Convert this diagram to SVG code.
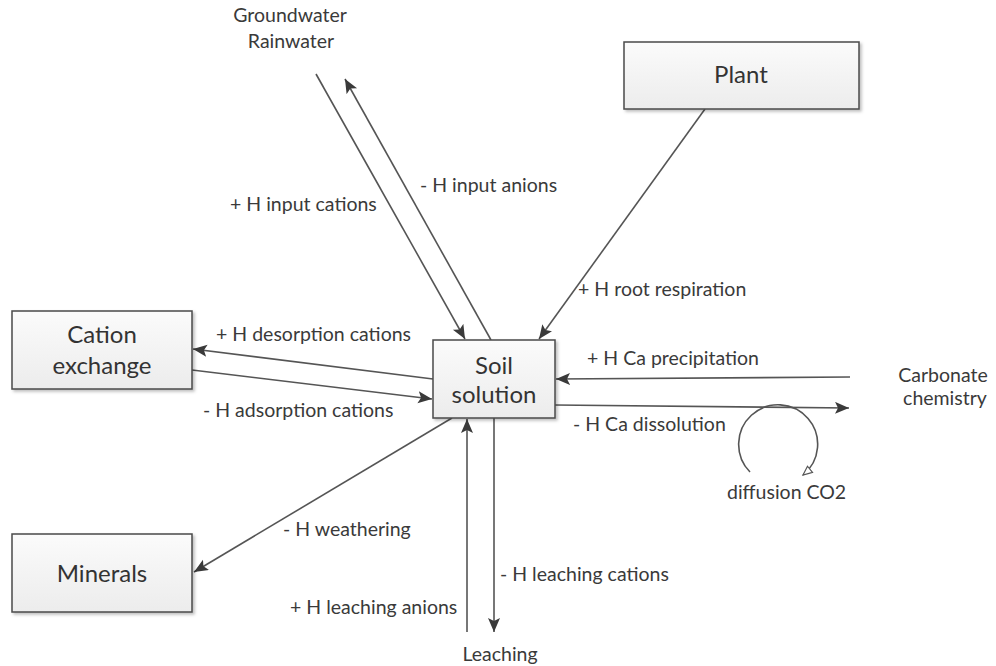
<svg xmlns="http://www.w3.org/2000/svg" width="996" height="666" viewBox="0 0 996 666">
<defs>
<linearGradient id="boxg" x1="0" y1="0" x2="0" y2="1">
<stop offset="0" stop-color="#fbfbfb"/>
<stop offset="1" stop-color="#ececec"/>
</linearGradient>
<filter id="sh" x="-10%" y="-10%" width="130%" height="140%">
<feDropShadow dx="2" dy="2" stdDeviation="1.5" flood-color="#000" flood-opacity="0.25"/>
</filter>
<marker id="ah" markerUnits="userSpaceOnUse" markerWidth="16" markerHeight="14" refX="14" refY="6" orient="auto">
<path d="M0,0 L14,6 L0,12 L3,6 Z" fill="#3a3a3a"/>
</marker>
<marker id="oh" markerUnits="userSpaceOnUse" markerWidth="14" markerHeight="14" refX="10" refY="5" orient="auto">
<path d="M1,1 L10,5 L1,9 Z" fill="#fff" stroke="#555" stroke-width="1.2"/>
</marker>
</defs>
<style>
.box{fill:url(#boxg);stroke:#4a4a4a;stroke-width:1.5;filter:url(#sh)}
.bt{font-family:Lato,"Liberation Sans",sans-serif;font-size:24px;fill:#333;text-anchor:middle}
.lb{font-family:Lato,"Liberation Sans",sans-serif;font-size:19.5px;fill:#3a3a3a}
.c{stroke:#555;stroke-width:1.6;fill:none}
.a{marker-end:url(#ah)}
</style>
<rect width="996" height="666" fill="#fff"/>
<g id="connectors">
<line class="c a" x1="316" y1="74" x2="465" y2="339"/>
<line class="c a" x1="491" y1="340" x2="345" y2="79"/>
<line class="c a" x1="705" y1="109" x2="539" y2="339"/>
<line class="c a" x1="433" y1="379" x2="193" y2="349"/>
<line class="c a" x1="192" y1="370" x2="432" y2="399"/>
<line class="c a" x1="850" y1="377" x2="556" y2="379"/>
<line class="c a" x1="555" y1="405" x2="849" y2="408"/>
<line class="c a" x1="452" y1="418" x2="194" y2="572"/>
<line class="c a" x1="467" y1="632" x2="467" y2="419"/>
<line class="c a" x1="494" y1="418" x2="494" y2="632"/>
<path class="c" d="M750,472 A39.5,39.5 0 1 1 803,475" stroke-width="1.4" marker-end="url(#oh)"/>
</g>
<g id="plant">
<rect class="box" x="624" y="42" width="235" height="67"/>
<text class="bt" x="741" y="83">Plant</text>
</g>
<g id="soil-solution">
<rect class="box" x="433" y="340" width="122" height="78"/>
<text class="bt" x="494" y="374">Soil</text>
<text class="bt" x="494" y="403">solution</text>
</g>
<g id="cation-exchange">
<rect class="box" x="12" y="311" width="180" height="78"/>
<text class="bt" x="102" y="343">Cation</text>
<text class="bt" x="102" y="374">exchange</text>
</g>
<g id="minerals">
<rect class="box" x="12" y="534" width="180" height="78"/>
<text class="bt" x="102" y="582">Minerals</text>
</g>
<g id="groundwater">
<text class="lb" x="290" y="22" text-anchor="middle">Groundwater</text>
<text class="lb" x="291" y="48" text-anchor="middle">Rainwater</text>
</g>
<g id="carbonate">
<text class="lb" x="943" y="382" text-anchor="middle">Carbonate</text>
<text class="lb" x="945" y="405" text-anchor="middle">chemistry</text>
</g>
<g id="leaching">
<text class="lb" x="500" y="661" text-anchor="middle">Leaching</text>
</g>
<g id="labels">
<text class="lb" x="230" y="211">+ H input cations</text>
<text class="lb" x="420" y="192">- H input anions</text>
<text class="lb" x="578" y="296">+ H root respiration</text>
<text class="lb" x="216" y="341">+ H desorption cations</text>
<text class="lb" x="203" y="417">- H adsorption cations</text>
<text class="lb" x="587" y="365">+ H Ca precipitation</text>
<text class="lb" x="573" y="431">- H Ca dissolution</text>
<text class="lb" x="727" y="499">diffusion CO2</text>
<text class="lb" x="283" y="536">- H weathering</text>
<text class="lb" x="500" y="581">- H leaching cations</text>
<text class="lb" x="290" y="614">+ H leaching anions</text>
</g>
</svg>
